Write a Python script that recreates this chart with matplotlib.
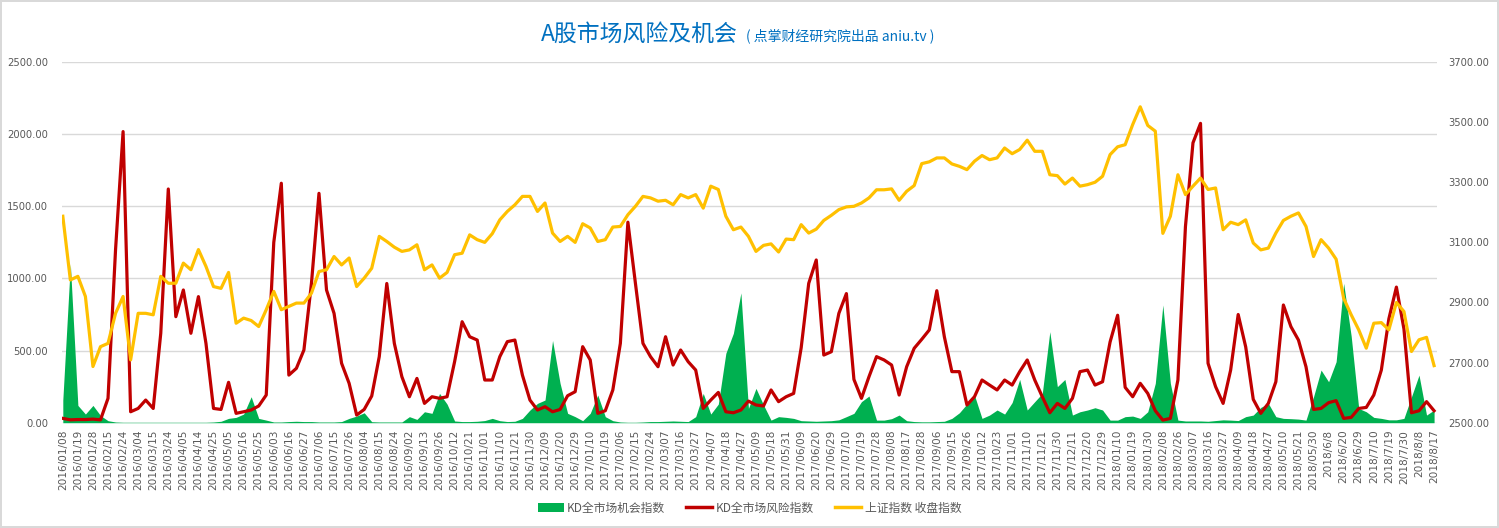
import numpy as np
import matplotlib
matplotlib.use("Agg")
import matplotlib.pyplot as plt
from matplotlib.patches import Patch
from matplotlib.lines import Line2D

plt.rcParams['font.family'] = ['DejaVu Sans', 'Noto Sans CJK SC']

# tick labels (every 7 trading days); data sampled twice per label
dates = [
    "2016/01/08", "2016/01/19", "2016/01/28", "2016/02/15", "2016/02/24", "2016/03/04",
    "2016/03/15", "2016/03/24", "2016/04/05", "2016/04/14", "2016/04/25", "2016/05/05",
    "2016/05/16", "2016/05/25", "2016/06/03", "2016/06/16", "2016/06/27", "2016/07/06",
    "2016/07/15", "2016/07/26", "2016/08/04", "2016/08/15", "2016/08/24", "2016/09/02",
    "2016/09/13", "2016/09/26", "2016/10/12", "2016/10/21", "2016/11/01", "2016/11/10",
    "2016/11/21", "2016/11/30", "2016/12/09", "2016/12/20", "2016/12/29",
    "2017/01/10", "2017/01/19", "2017/02/06", "2017/02/15", "2017/02/24", "2017/03/07",
    "2017/03/16", "2017/03/27", "2017/04/07", "2017/04/18", "2017/04/27", "2017/05/09",
    "2017/05/18", "2017/05/31", "2017/06/09", "2017/06/20", "2017/06/29", "2017/07/10",
    "2017/07/19", "2017/07/28", "2017/08/08", "2017/08/17", "2017/08/28", "2017/09/06",
    "2017/09/15", "2017/09/26", "2017/10/12", "2017/10/23", "2017/11/01", "2017/11/10",
    "2017/11/21", "2017/11/30", "2017/12/11", "2017/12/20", "2017/12/29",
    "2018/01/10", "2018/01/19", "2018/01/30", "2018/02/08", "2018/02/26", "2018/03/07",
    "2018/03/16", "2018/03/27", "2018/04/09", "2018/04/18", "2018/04/27", "2018/05/10",
    "2018/05/21", "2018/05/30", "2018/6/8", "2018/6/20", "2018/6/29", "2018/7/10",
    "2018/7/19", "2018/7/30", "2018/8/8", "2018/8/17",
]

# KD全市场机会指数 (green area, left axis)
opp = [
    157, 1100, 120, 60, 120, 50, 14, 5, 3, 3, 3, 3, 3, 3, 3, 3, 3, 3, 3, 3,
    5, 10, 30, 37, 60, 180, 30, 18, 5, 5, 8, 10, 8, 8, 5, 5, 5, 8, 30, 46,
    69, 7, 5, 5, 5, 5, 42, 23, 76, 65, 203, 129, 12, 8, 8, 10, 15, 30, 14, 8,
    10, 30, 88, 134, 157, 570, 273, 65, 42, 14, 65, 192, 42, 14, 5, 3, 3, 5, 8, 8,
    10, 12, 10, 8, 42, 203, 60, 129, 481, 620, 900, 99, 238, 123, 18, 42, 37, 30, 14, 12,
    10, 12, 14, 20, 42, 65, 146, 185, 18, 18, 28, 53, 14, 8, 6, 6, 8, 10, 30, 69,
    130, 190, 30, 53, 88, 60, 140, 300, 88, 146, 203, 631, 250, 300, 53, 76, 88, 104, 88, 18,
    18, 42, 46, 30, 76, 273, 816, 273, 18, 12, 12, 12, 10, 15, 20, 18, 15, 42, 53, 106,
    134, 42, 30, 28, 25, 18, 180, 365, 284, 423, 966, 600, 99, 76, 37, 30, 20, 20, 30, 180,
    330, 53, 88,
]

# KD全市场风险指数 (red line, left axis)
risk = [
    30, 20, 22, 22, 25, 20, 169, 1200, 2018, 76, 99, 157, 99, 620, 1620, 735, 920, 620, 874, 550,
    99, 92, 280, 65, 76, 88, 116, 192, 1250, 1660, 330, 377, 504, 966, 1590, 920, 758, 412, 273, 53,
    92, 185, 458, 965, 550, 319, 180, 307, 134, 180, 169, 180, 423, 700, 596, 573, 296, 296, 458, 562,
    573, 330, 157, 88, 111, 76, 92, 187, 215, 527, 435, 65, 83, 227, 550, 1390, 966, 550, 458, 388,
    596, 400, 504, 423, 365, 99, 157, 210, 76, 69, 88, 150, 123, 116, 227, 146, 180, 203, 520, 966,
    1128, 469, 492, 758, 895, 300, 169, 319, 458, 435, 400, 192, 388, 516, 578, 643, 915, 596, 354, 354,
    123, 180, 296, 261, 227, 296, 261, 354, 435, 296, 180, 69, 134, 99, 169, 354, 365, 261, 284, 560,
    745, 245, 180, 273, 203, 83, 18, 30, 296, 1359, 1940, 2075, 412, 250, 134, 365, 750, 525, 162, 65,
    134, 284, 816, 666, 573, 388, 92, 99, 139, 153, 30, 37, 99, 106, 192, 365, 720, 940, 650, 69,
    83, 146, 83,
]

# 上证指数 收盘指数 (yellow line, right axis)
sh = [
    3187, 2975, 2987, 2920, 2687, 2753, 2764, 2864, 2920, 2709, 2864, 2864, 2859, 2987, 2964, 2964, 3031, 3009, 3076, 3020,
    2953, 2947, 3000, 2831, 2848, 2840, 2820, 2876, 2937, 2876, 2887, 2898, 2898, 2931, 3003, 3009, 3053, 3025, 3048, 2953,
    2981, 3014, 3120, 3103, 3084, 3070, 3075, 3092, 3009, 3025, 2981, 3000, 3059, 3064, 3125, 3109, 3100, 3129, 3175, 3203,
    3225, 3253, 3253, 3203, 3231, 3131, 3103, 3120, 3100, 3162, 3148, 3103, 3109, 3151, 3153, 3192, 3220, 3253, 3248, 3237,
    3240, 3225, 3259, 3248, 3259, 3214, 3287, 3276, 3187, 3142, 3151, 3120, 3070, 3090, 3095, 3068, 3111, 3109, 3159, 3131,
    3144, 3173, 3190, 3209, 3218, 3220, 3231, 3248, 3275, 3275, 3278, 3240, 3270, 3289, 3362, 3368, 3381, 3381, 3361, 3353,
    3342, 3370, 3389, 3375, 3381, 3414, 3395, 3409, 3440, 3403, 3403, 3325, 3322, 3294, 3314, 3287, 3292, 3300, 3320, 3392,
    3418, 3425, 3492, 3551, 3489, 3470, 3130, 3187, 3325, 3259, 3287, 3314, 3276, 3281, 3142, 3167, 3159, 3175, 3098, 3075,
    3081, 3131, 3173, 3187, 3198, 3153, 3053, 3109, 3081, 3044, 2914, 2859, 2809, 2748, 2831, 2833, 2809, 2900, 2870, 2737,
    2776, 2784, 2690,
]

GREEN = "#00B050"
RED = "#C00000"
YELLOW = "#FFC000"
TXT = "#595959"
BLUE = "#0070C0"

x = np.arange(len(risk))

fig = plt.figure(figsize=(14.99, 5.28), dpi=100)
fig.patch.set_edgecolor("#D9D9D9")
fig.patch.set_linewidth(1.5)

ax = fig.add_axes([0.0414, 0.1994, 0.9173, 0.6831])
ax2 = ax.twinx()

ax.fill_between(x, opp, 0, color=GREEN, lw=0)
ax.plot(x, risk, color=RED, lw=2.3, solid_joinstyle="round")
ax2.plot(x, sh, color=YELLOW, lw=2.3, solid_joinstyle="round")

ax.set_xlim(-0.1, 182.4)
ax.set_ylim(0, 2500)
ax2.set_ylim(2500, 3700)
ax.set_yticks(np.arange(0, 2501, 500))
ax.set_yticklabels([f"{v:.2f}" for v in np.arange(0, 2501, 500)])
ax2.set_yticks(np.arange(2500, 3701, 200))
ax2.set_yticklabels([f"{v:.2f}" for v in np.arange(2500, 3701, 200)])

ax.set_xticks(x[::2])
ax.set_xticklabels(dates, rotation=90, fontsize=7.6, color=TXT)

ax.yaxis.grid(True, color="#D9D9D9", lw=1)
ax.set_axisbelow(True)
ax.tick_params(axis="x", length=0, pad=5)
ax.tick_params(axis="y", length=0, pad=10, labelsize=7.2, labelcolor=TXT)
ax2.tick_params(axis="y", length=0, pad=8, labelsize=7.2, labelcolor=TXT)
for a in (ax, ax2):
    for s in a.spines.values():
        s.set_visible(False)

# title
fig.text(738 / 1499, 1 - 41 / 528, "A股市场风险及机会", ha="right", va="baseline",
         fontsize=16.5, color=BLUE, family=["Noto Sans CJK SC", "DejaVu Sans"])
fig.text(746 / 1499, 1 - 40 / 528, "( 点掌财经研究院出品 aniu.tv )", ha="left", va="baseline",
         fontsize=10, color=BLUE, family=["Noto Sans CJK SC", "DejaVu Sans"])

handles = [
    Patch(facecolor=GREEN, edgecolor="none"),
    Line2D([], [], color=RED, lw=2.5),
    Line2D([], [], color=YELLOW, lw=2.5),
]
labels = ["KD全市场机会指数", "KD全市场风险指数", "上证指数 收盘指数"]
fig.legend(handles, labels, loc="center", bbox_to_anchor=(0.5, 1 - 508 / 528), ncol=3,
           frameon=False, fontsize=8.5, labelcolor=TXT, handlelength=2.2,
           handletextpad=0.3, columnspacing=1.8,
           prop={"family": ["Noto Sans CJK SC", "DejaVu Sans"], "size": 8.5})

fig.savefig("out.png", dpi=100)
